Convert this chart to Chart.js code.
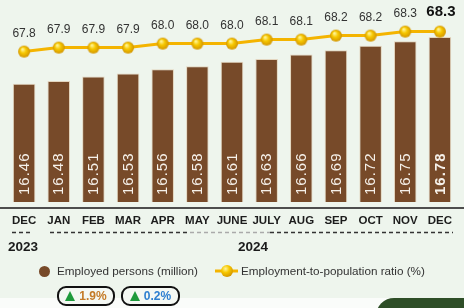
<!DOCTYPE html>
<html><head><meta charset="utf-8">
<script src="https://cdn.jsdelivr.net/npm/chart.js@4.4.1/dist/chart.umd.min.js"></script>
<style>
html,body{margin:0;padding:0;}
body{width:464px;height:308px;position:relative;overflow:hidden;background:#eef5ed;font-family:"Liberation Sans",Arial,sans-serif;}
#c{position:absolute;left:0;top:0;}
.band{position:absolute;left:0;top:298px;width:464px;height:10px;background:#fafcfa;}
.green{position:absolute;left:376px;top:298px;width:100px;height:20px;background:#2e4e27;border-top-left-radius:18px;}
.yr{position:absolute;top:239px;font-weight:bold;font-size:13.5px;color:#1a1a1a;}
.leg{position:absolute;top:264px;font-size:11.7px;color:#333;white-space:nowrap;}
.dot{position:absolute;left:39px;top:266px;width:11px;height:11px;border-radius:50%;background:#774a29;}
.badge{position:absolute;top:286px;height:16px;border:2px solid #111;border-radius:9px;background:#f4f8f3;font-size:12px;font-weight:bold;line-height:16px;white-space:nowrap;}
.tri{display:inline-block;width:0;height:0;border-left:5.5px solid transparent;border-right:5.5px solid transparent;border-bottom:10px solid #1f9a3c;vertical-align:-1px;margin-right:4px;}
svg{position:absolute;left:0;top:0;}
</style></head>
<body>
<canvas id="c" width="464" height="308"></canvas>
<svg width="464" height="308">
<line x1="12" y1="232.5" x2="33" y2="232.5" stroke="#333" stroke-width="1.3" stroke-dasharray="4,3"/>
<line x1="50" y1="232.5" x2="190" y2="232.5" stroke="#333" stroke-width="1.3" stroke-dasharray="4,3"/>
<line x1="190" y1="232.5" x2="270" y2="232.5" stroke="#aaa" stroke-width="1.3" stroke-dasharray="4,3"/>
<line x1="270" y1="232.5" x2="453" y2="232.5" stroke="#333" stroke-width="1.3" stroke-dasharray="4,3"/>
<line x1="215" y1="271" x2="238" y2="271" stroke="#f4b400" stroke-width="3"/>
<defs><radialGradient id="g" cx="0.38" cy="0.32" r="0.7"><stop offset="0" stop-color="#fff59a"/><stop offset="0.45" stop-color="#f7c800"/><stop offset="1" stop-color="#d29500"/></radialGradient></defs>
<circle cx="227" cy="271" r="6" fill="url(#g)"/>
</svg>
<div class="yr" style="left:8px">2023</div>
<div class="yr" style="left:238px">2024</div>
<div class="dot"></div>
<div class="leg" style="left:57px">Employed persons (million)</div>
<div class="leg" style="left:241px">Employment-to-population ratio (%)</div>
<div class="band"></div>
<div class="green"></div>
<div class="badge" style="left:57px;width:54px;text-align:center;"><span class="tri"></span><span style="color:#c47a26">1.9%</span></div>
<div class="badge" style="left:121px;width:55px;text-align:center;"><span class="tri"></span><span style="color:#2e7fd0">0.2%</span></div>
<script>
const categories = ["DEC","JAN","FEB","MAR","APR","MAY","JUNE","JULY","AUG","SEP","OCT","NOV","DEC"];
const employedMillion = [16.46,16.48,16.51,16.53,16.56,16.58,16.61,16.63,16.66,16.69,16.72,16.75,16.78];
const ratioPercent = [67.8,67.9,67.9,67.9,68.0,68.0,68.0,68.1,68.1,68.2,68.2,68.3,68.3];

function sphere(r){
  const s = r*2+2, cv = document.createElement('canvas');
  cv.width = s; cv.height = s;
  const x = cv.getContext('2d');
  const g = x.createRadialGradient(s*0.38, s*0.32, 0.5, s/2, s/2, r);
  g.addColorStop(0, '#fff59a'); g.addColorStop(0.45, '#f7c800'); g.addColorStop(1, '#d29500');
  x.fillStyle = g; x.beginPath(); x.arc(s/2, s/2, r, 0, Math.PI*2); x.fill();
  return cv;
}
const ball = sphere(6);

const labelPlugin = {
  id: 'labels',
  afterDraw(chart){
    const ctx = chart.ctx;
    const ca = chart.chartArea;
    ctx.save();
    ctx.fillStyle = '#4d4d4d';
    ctx.fillRect(0, 207, 464, 2);
    const bm = chart.getDatasetMeta(0);
    bm.data.forEach((b, i) => {
      const last = i === bm.data.length - 1;
      ctx.save();
      ctx.translate(b.x + 0.5, ca.bottom - 7);
      ctx.rotate(-Math.PI/2);
      ctx.fillStyle = '#f6f1ea';
      ctx.font = (last ? 'bold ' : '') + '15px "Liberation Sans", Arial';
      ctx.letterSpacing = '1px';
      ctx.textAlign = 'left';
      ctx.textBaseline = 'middle';
      ctx.fillText(employedMillion[i].toFixed(2), 0, 0);
      ctx.restore();
    });
    const lm = chart.getDatasetMeta(1);
    lm.data.forEach((p, i) => {
      const last = i === lm.data.length - 1;
      ctx.textAlign = 'center';
      ctx.textBaseline = 'middle';
      if (last) {
        ctx.font = 'bold 15px "Liberation Sans", Arial';
        ctx.fillStyle = '#111';
        ctx.fillText(ratioPercent[i].toFixed(1), p.x + 1, p.y - 20);
      } else {
        ctx.font = '12px "Liberation Sans", Arial';
        ctx.fillStyle = '#333';
        ctx.fillText(ratioPercent[i].toFixed(1), p.x, p.y - 18);
      }
    });
    ctx.restore();
  }
};

new Chart(document.getElementById('c'), {
  data: {
    labels: categories,
    datasets: [
      { type: 'bar', data: employedMillion, yAxisID: 'y', backgroundColor: '#774a29',
        borderColor: 'rgba(225,210,185,0.9)', borderWidth: 1, borderSkipped: 'bottom',
        categoryPercentage: 1, barPercentage: 0.65, order: 2 },
      { type: 'line', data: ratioPercent, yAxisID: 'y2', borderColor: '#f4b400', borderWidth: 3,
        pointStyle: ball, pointRadius: 6, tension: 0, order: 1, clip: false }
    ]
  },
  options: {
    responsive: false, devicePixelRatio: 1, animation: false,
    layout: { autoPadding: false, padding: { top: 4, left: 6, right: 0, bottom: 68.2 } },
    plugins: { legend: { display: false }, tooltip: { enabled: false } },
    scales: {
      x: { grid: { display: false, drawTicks: false }, border: { display: false },
           ticks: { padding: 12, color: '#1c1c1c', font: { family: '"Liberation Sans", Arial', size: 11.5, weight: 'bold' }, maxRotation: 0, autoSkip: false } },
      y: { display: false, min: 15.653, max: 17.005 },
      y2: { display: false, min: 64.04, max: 68.99 }
    }
  },
  plugins: [labelPlugin]
});
</script>
</body></html>
